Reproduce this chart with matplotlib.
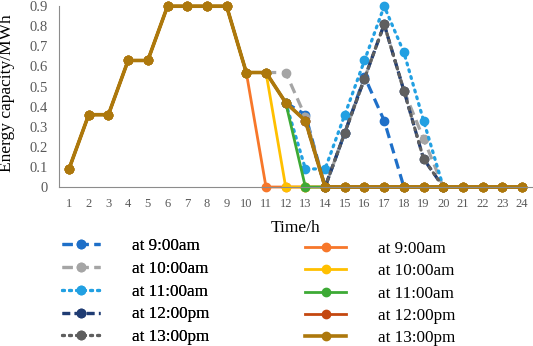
import numpy as np
import matplotlib.pyplot as plt

nan = np.nan
hours = list(range(1, 25))

# solid series (charging path, then drop to zero)
s_9am = [0.09, 0.36, 0.36, 0.63, 0.63, 0.9, 0.9, 0.9, 0.9, 0.57, 0, 0,
         0, 0, 0, 0, 0, 0, 0, 0, 0, 0, 0, 0]
s_10am = [0.09, 0.36, 0.36, 0.63, 0.63, 0.9, 0.9, 0.9, 0.9, 0.57, 0.57, 0,
          0, 0, 0, 0, 0, 0, 0, 0, 0, 0, 0, 0]
s_11am = [0.09, 0.36, 0.36, 0.63, 0.63, 0.9, 0.9, 0.9, 0.9, 0.57, 0.57, 0.42,
          0, 0, 0, 0, 0, 0, 0, 0, 0, 0, 0, 0]
s_12pm = [0.09, 0.36, 0.36, 0.63, 0.63, 0.9, 0.9, 0.9, 0.9, 0.57, 0.57, 0.42,
          0.33, 0, 0, 0, 0, 0, 0, 0, 0, 0, 0, 0]
s_13pm = [0.09, 0.36, 0.36, 0.63, 0.63, 0.9, 0.9, 0.9, 0.9, 0.57, 0.57, 0.42,
          0.33, 0, 0, 0, 0, 0, 0, 0, 0, 0, 0, 0]

# dashed / dotted series
d_9am = [nan] * 11 + [0.42, 0.36, 0, 0.27, 0.55, 0.33, 0] + [nan] * 6
d_10am = [nan] * 10 + [0.57, 0.57, 0.35, 0, 0.27, 0.54, 0.81, 0.48, 0.24, 0] + [nan] * 4
d_11am = [nan] * 11 + [0.42, 0.09, 0.09, 0.36, 0.63, 0.9, 0.67, 0.33, 0] + [nan] * 4
d_12pm = [nan] * 12 + [0.33, 0, 0.27, 0.54, 0.81, 0.48, 0.14, 0] + [nan] * 4
d_13pm = [nan] * 13 + [0, 0.27, 0.54, 0.81, 0.48, 0.14, 0] + [nan] * 4

labels = ['at 9:00am', 'at 10:00am', 'at 11:00am', 'at 12:00pm', 'at 13:00pm']

plt.rcParams['font.family'] = ['Liberation Serif', 'DejaVu Serif']

fig = plt.figure(figsize=(5.33, 3.46), dpi=100)
ax = fig.add_axes([0.111, 0.4595, 0.887, 0.5225])

dash_styles = [
    ('#1E6FC8', (0, (3.2, 1.8))),
    ('#A5A5A5', (0, (3.2, 1.8))),
    ('#22A0E2', (0, (0.6, 1.6))),
    ('#1F3C73', (0, (2.4, 1.4))),
    ('#5F5F5F', (0, (0.6, 1.6))),
]
solid_colors = ['#F7772A', '#FFC000', '#3DAA35', '#C4470F', '#AD780C']

dashed_handles = []
for y, (c, ls), lab in zip([d_9am, d_10am, d_11am, d_12pm, d_13pm], dash_styles, labels):
    ln, = ax.plot(hours, y, color=c, linestyle=ls, lw=2.3, marker='o', ms=6,
                  dash_capstyle='round' if ls[1][0] < 1 else 'butt',
                  clip_on=False, label=lab)
    dashed_handles.append(ln)

solid_handles = []
for y, c, lab in zip([s_9am, s_10am, s_11am, s_12pm, s_13pm], solid_colors, labels):
    lw = 2.6 if c == '#AD780C' else 2.0
    ln, = ax.plot(hours, y, color=c, lw=lw, marker='o', ms=6, clip_on=False, label=lab)
    solid_handles.append(ln)

ax.set_xlim(0.5, 24.5)
ax.set_ylim(0, 0.9)
ax.set_xticks(hours)
ax.set_yticks(np.arange(0, 0.91, 0.1))
ax.set_yticklabels(['0'] + ['%.1f' % v for v in np.arange(0.1, 0.91, 0.1)])
ax.tick_params(axis='x', length=0, labelsize=9, colors='#595959', pad=8)
ax.tick_params(axis='y', length=0, labelsize=10.5, colors='#595959', pad=8)
for side in ['top', 'right']:
    ax.spines[side].set_visible(False)
for side in ['left', 'bottom']:
    ax.spines[side].set_color('#8C8C8C')
    ax.spines[side].set_linewidth(0.8)

ax.set_xlabel('Time/h', fontsize=12.5, labelpad=7)
ax.set_ylabel('Energy capacity/MWh', fontsize=12.5)
ax.yaxis.set_label_coords(-0.093, 0.52)

leg1 = fig.legend(handles=dashed_handles, loc='upper left',
                  bbox_to_anchor=(62 / 533, 1 - 238 / 346), frameon=False,
                  fontsize=12.3, handlelength=2.2, handletextpad=1.9,
                  labelspacing=0.4, borderpad=0, borderaxespad=0)
leg2 = fig.legend(handles=solid_handles, loc='upper left',
                  bbox_to_anchor=(305 / 533, 1 - 241 / 346), frameon=False,
                  fontsize=12.3, handlelength=2.4, handletextpad=1.9,
                  labelspacing=0.37, borderpad=0, borderaxespad=0)
fig.add_artist(leg1)

plt.savefig('out.png', dpi=100)
